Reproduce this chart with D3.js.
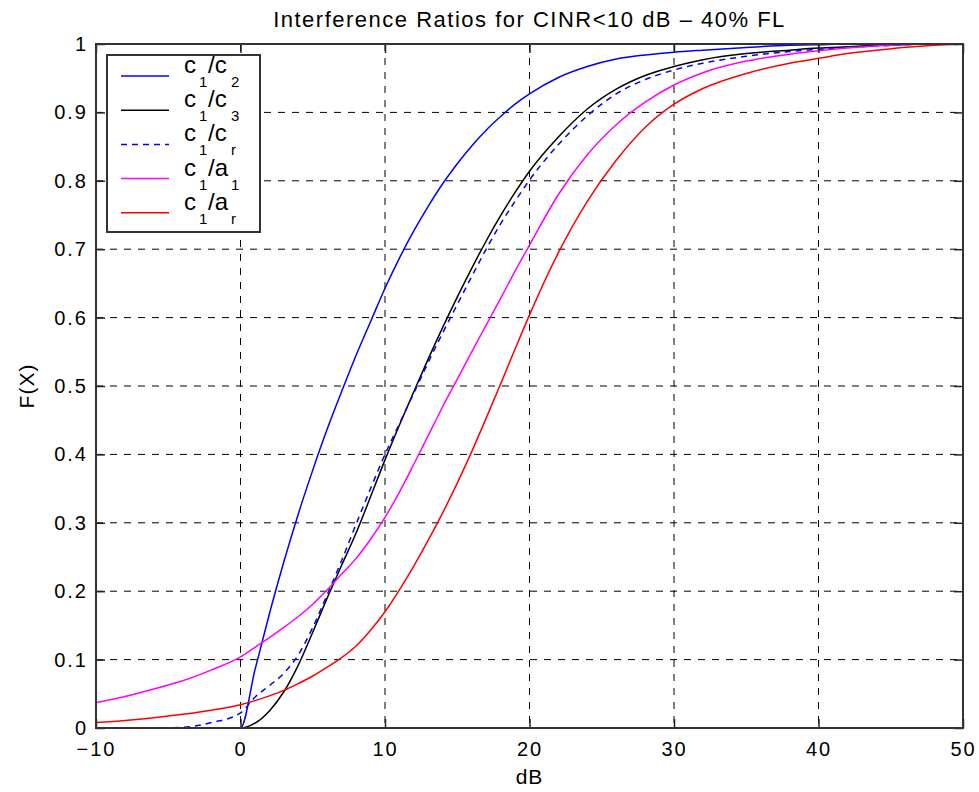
<!DOCTYPE html>
<html>
<head>
<meta charset="utf-8">
<script src="https://cdn.jsdelivr.net/npm/d3@7"></script>
<style>
  body { margin: 0; background: #fff; }
  svg { display: block; font-family: "Liberation Sans", Arial, sans-serif; }
  .tick text { font-size: 20px; letter-spacing: 2px; fill: #000; }
  .grid line { stroke: #000; stroke-dasharray: 7,7; stroke-width: 1; }
</style>
</head>
<body>
<div id="chart-area"></div>
<script>
// data
var dB = [-10, -8, -6, -4, -2, 0, 1, 2, 3, 4, 5, 6, 7, 8, 9, 10, 11, 12, 13, 14, 15, 16, 17, 18, 19, 20, 22, 24, 26, 28, 30, 32, 35, 38, 40, 42, 45, 48, 50];
var c1c2 = [0, 0, 0, 0, 0, 0, 0.085, 0.167, 0.243, 0.313, 0.377, 0.437, 0.492, 0.545, 0.594, 0.643, 0.687, 0.727, 0.763, 0.796, 0.825, 0.851, 0.874, 0.894, 0.912, 0.927, 0.951, 0.967, 0.978, 0.984, 0.988, 0.991, 0.995, 0.998, 0.999, 1, 1, 1, 1];
var c1c3 = [0, 0, 0, 0, 0, 0, 0.007, 0.025, 0.053, 0.092, 0.14, 0.19, 0.238, 0.285, 0.338, 0.392, 0.443, 0.492, 0.54, 0.586, 0.63, 0.672, 0.712, 0.749, 0.783, 0.814, 0.864, 0.905, 0.934, 0.954, 0.967, 0.977, 0.986, 0.991, 0.994, 0.996, 0.999, 1, 1];
var c1cr = [0, 0, 0, 0.001, 0.008, 0.022, 0.045, 0.062, 0.08, 0.107, 0.147, 0.195, 0.245, 0.298, 0.35, 0.40, 0.445, 0.49, 0.535, 0.578, 0.619, 0.66, 0.7, 0.737, 0.77, 0.801, 0.853, 0.895, 0.927, 0.948, 0.962, 0.972, 0.982, 0.989, 0.992, 0.995, 0.998, 1, 1];
var c1a1 = [0.037, 0.046, 0.057, 0.069, 0.085, 0.104, 0.118, 0.132, 0.147, 0.163, 0.181, 0.202, 0.225, 0.248, 0.276, 0.308, 0.345, 0.386, 0.428, 0.47, 0.51, 0.55, 0.589, 0.628, 0.668, 0.706, 0.78, 0.838, 0.882, 0.915, 0.94, 0.958, 0.975, 0.985, 0.99, 0.994, 0.998, 1, 1];
var c1ar = [0.008, 0.011, 0.015, 0.02, 0.026, 0.034, 0.04, 0.047, 0.055, 0.065, 0.076, 0.089, 0.103, 0.12, 0.143, 0.17, 0.202, 0.237, 0.275, 0.315, 0.358, 0.404, 0.453, 0.503, 0.554, 0.604, 0.695, 0.77, 0.83, 0.878, 0.912, 0.935, 0.957, 0.972, 0.979, 0.986, 0.993, 0.998, 1];

var xTicks = [-10, 0, 10, 20, 30, 40, 50];
var yTicks = [0, 0.1, 0.2, 0.3, 0.4, 0.5, 0.6, 0.7, 0.8, 0.9, 1];

var seriesNames = ["c1c2", "c1c3", "c1cr", "c1a1", "c1ar"];
var seriesValues = [c1c2, c1c3, c1cr, c1a1, c1ar];
var seriesColors = ["#0000ff", "#000000", "#0000ff", "#ff00ff", "#ff0000"];
var seriesDash = [null, null, "6,5", null, null];
// legend label parts: c_1 / <second><sub>
var legendSecond = ["c", "c", "c", "a", "a"];
var legendSub = ["2", "3", "r", "1", "r"];

var margin = {left: 96, right: 16, top: 44, bottom: 64},
	width = 979 - margin.left - margin.right,
	height = 792 - margin.top - margin.bottom;

var svg = d3.select("#chart-area")
	.append("svg")
		.attr("width", 979)
		.attr("height", 792);

var g = svg.append("g")
	.attr("transform", "translate(" + margin.left + "," + margin.top + ")");

var x = d3.scaleLinear().domain([-10, 50]).range([0, width]);
var y = d3.scaleLinear().domain([0, 1]).range([height, 0]);

//grid
g.append("g").attr("class", "grid")
	.selectAll("line").data(xTicks.slice(1, -1)).enter().append("line")
	.attr("x1", d => x(d)).attr("x2", d => x(d))
	.attr("y1", 0).attr("y2", height);
g.append("g").attr("class", "grid")
	.selectAll("line").data(yTicks.slice(1, -1)).enter().append("line")
	.attr("y1", d => y(d)).attr("y2", d => y(d))
	.attr("x1", 0).attr("x2", width);

//curves
g.append("clipPath").attr("id", "clip")
	.append("rect").attr("width", width).attr("height", height);

var line = d3.line()
	.x((d, i) => x(dB[i]))
	.y(d => y(d))
	.curve(d3.curveMonotoneX);

var plot = g.append("g").attr("clip-path", "url(#clip)");
seriesValues.forEach((vals, k) => {
	plot.append("path")
		.attr("class", "line " + seriesNames[k])
		.attr("fill", "none")
		.attr("stroke", seriesColors[k])
		.attr("stroke-width", 1.5)
		.attr("stroke-dasharray", seriesDash[k])
		.attr("d", line(vals));
});

//axes, ticks inside on all four sides
var yFmt = d => (d === 0 || d === 1) ? String(d) : d.toFixed(1);
g.append("g")
	.attr("transform", "translate(0," + height + ")")
	.call(d3.axisBottom(x).tickValues(xTicks).tickSize(-9).tickPadding(14).tickSizeOuter(0));
g.append("g")
	.call(d3.axisLeft(y).tickValues(yTicks).tickFormat(yFmt).tickSize(-9).tickPadding(8).tickSizeOuter(0));
g.append("g")
	.call(d3.axisTop(x).tickValues(xTicks).tickSize(-9).tickFormat("").tickSizeOuter(0));
g.append("g")
	.attr("transform", "translate(" + width + ",0)")
	.call(d3.axisRight(y).tickValues(yTicks).tickSize(-9).tickFormat("").tickSizeOuter(0));
g.selectAll(".domain").remove();
g.selectAll(".tick line").attr("stroke", "#222").attr("stroke-width", 1.5);

g.append("rect")
	.attr("width", width).attr("height", height)
	.attr("fill", "none").attr("stroke", "#333").attr("stroke-width", 2);

//titles
svg.append("text")
	.attr("x", margin.left + width / 2).attr("y", 27)
	.attr("text-anchor", "middle")
	.style("font-size", "22px").style("letter-spacing", "1.5px")
	.text("Interference Ratios for CINR<10 dB \u2013 40% FL");
svg.append("text")
	.attr("x", margin.left + width / 2).attr("y", 784)
	.attr("text-anchor", "middle")
	.style("font-size", "21px").style("letter-spacing", "1px")
	.text("dB");
svg.append("text")
	.attr("transform", "translate(34," + (margin.top + height / 2) + ") rotate(-90)")
	.attr("text-anchor", "middle")
	.style("font-size", "21px").style("letter-spacing", "1px")
	.text("F(X)");

//legend
var leg = svg.append("g").attr("transform", "translate(107,55)");
leg.append("rect")
	.attr("width", 153).attr("height", 177)
	.attr("fill", "#fff").attr("stroke", "#333").attr("stroke-width", 2);
seriesNames.forEach((nm, k) => {
	var ly = 21 + k * 34.2;
	leg.append("line")
		.attr("x1", 14).attr("x2", 62)
		.attr("y1", ly).attr("y2", ly)
		.attr("stroke", seriesColors[k]).attr("stroke-width", 1.5)
		.attr("stroke-dasharray", seriesDash[k]);
	leg.append("text").attr("x", 77).attr("y", ly - 3)
		.style("font-size", "24px").text("c");
	leg.append("text").attr("x", 92).attr("y", ly + 11)
		.style("font-size", "15px").text("1");
	leg.append("text").attr("x", 101).attr("y", ly - 3)
		.style("font-size", "24px").text("/" + legendSecond[k]);
	leg.append("text").attr("x", 124).attr("y", ly + 11)
		.style("font-size", "15px").text(legendSub[k]);
});
</script>
</body>
</html>
